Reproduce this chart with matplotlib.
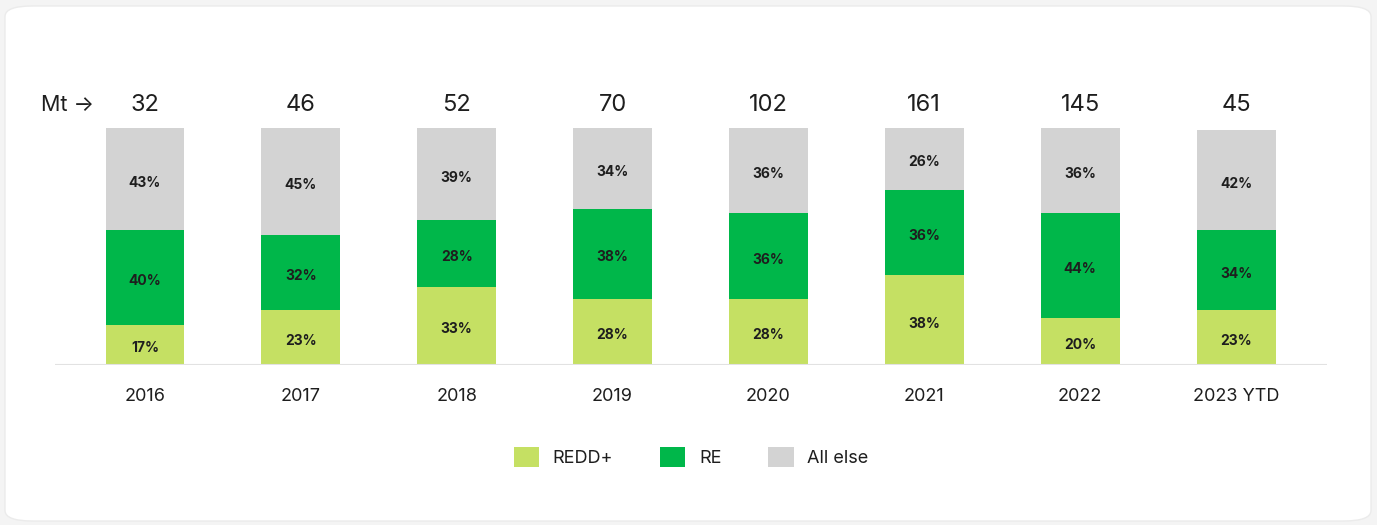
import matplotlib.pyplot as plt
from matplotlib.patches import FancyBboxPatch, Patch

plt.rcParams['font.family'] = ['Inter', 'DejaVu Sans']

years = ['2016', '2017', '2018', '2019', '2020', '2021', '2022', '2023 YTD']
totals = [32, 46, 52, 70, 102, 161, 145, 45]
redd = [17, 23, 33, 28, 28, 38, 20, 23]
re = [40, 32, 28, 38, 36, 36, 44, 34]
other = [43, 45, 39, 34, 36, 26, 36, 42]

series = [('REDD+', redd, '#c5e063'), ('RE', re, '#00b74a'), ('All else', other, '#d3d3d3')]
text_col = '#1e1e1e'

W, H = 1377, 525
fig = plt.figure(figsize=(W / 100, H / 100), dpi=100, facecolor='#f4f4f4')

# white card behind the chart
card = FancyBboxPatch((5 / W, 4 / H), 1366 / W, 515 / H,
                      boxstyle='round,pad=0,rounding_size=0.02',
                      transform=fig.transFigure, facecolor='white',
                      edgecolor='#ebebeb', linewidth=1.0, zorder=-10)
fig.patches.append(card)

ax = fig.add_axes([55 / W, 160 / H, 1272 / W, 237 / H])
ax.set_facecolor('none')
ax.set_xlim(-0.577, 7.583)
ax.set_ylim(0, 100)

x = range(len(years))
bottom = [0] * len(years)
for name, vals, col in series:
    ax.bar(x, vals, width=0.506, bottom=bottom, color=col, linewidth=0)
    for i, v in enumerate(vals):
        ax.text(i, bottom[i] + v / 2 - 1.5, f'{v}%', ha='center', va='center',
                fontsize=10, fontweight='bold', color=text_col)
    bottom = [b + v for b, v in zip(bottom, vals)]

for i, t in enumerate(totals):
    ax.text(i, 109.5, str(t), ha='center', va='center', fontsize=17, color=text_col)
ax.text(-0.33, 109.5, 'Mt \u2192', ha='right', va='center', fontsize=15.5, color=text_col)

for i, y in enumerate(years):
    ax.text(i, -13.3, y, ha='center', va='center', fontsize=13, color=text_col)

ax.axhline(0, color='#e2e2e2', linewidth=1.5)
for s in ax.spines.values():
    s.set_visible(False)
ax.set_xticks([])
ax.set_yticks([])

handles = [Patch(facecolor=c, edgecolor='none', label=n) for n, _, c in series]
leg = fig.legend(handles=handles, loc='center', bbox_to_anchor=(0.502, 1 - 457 / H),
                 ncol=3, frameon=False, fontsize=13, handlelength=1.4,
                 handleheight=1.4, handletextpad=0.75, columnspacing=2.6)
for t in leg.get_texts():
    t.set_color(text_col)

fig.savefig('out.png', dpi=100, facecolor=fig.get_facecolor())
